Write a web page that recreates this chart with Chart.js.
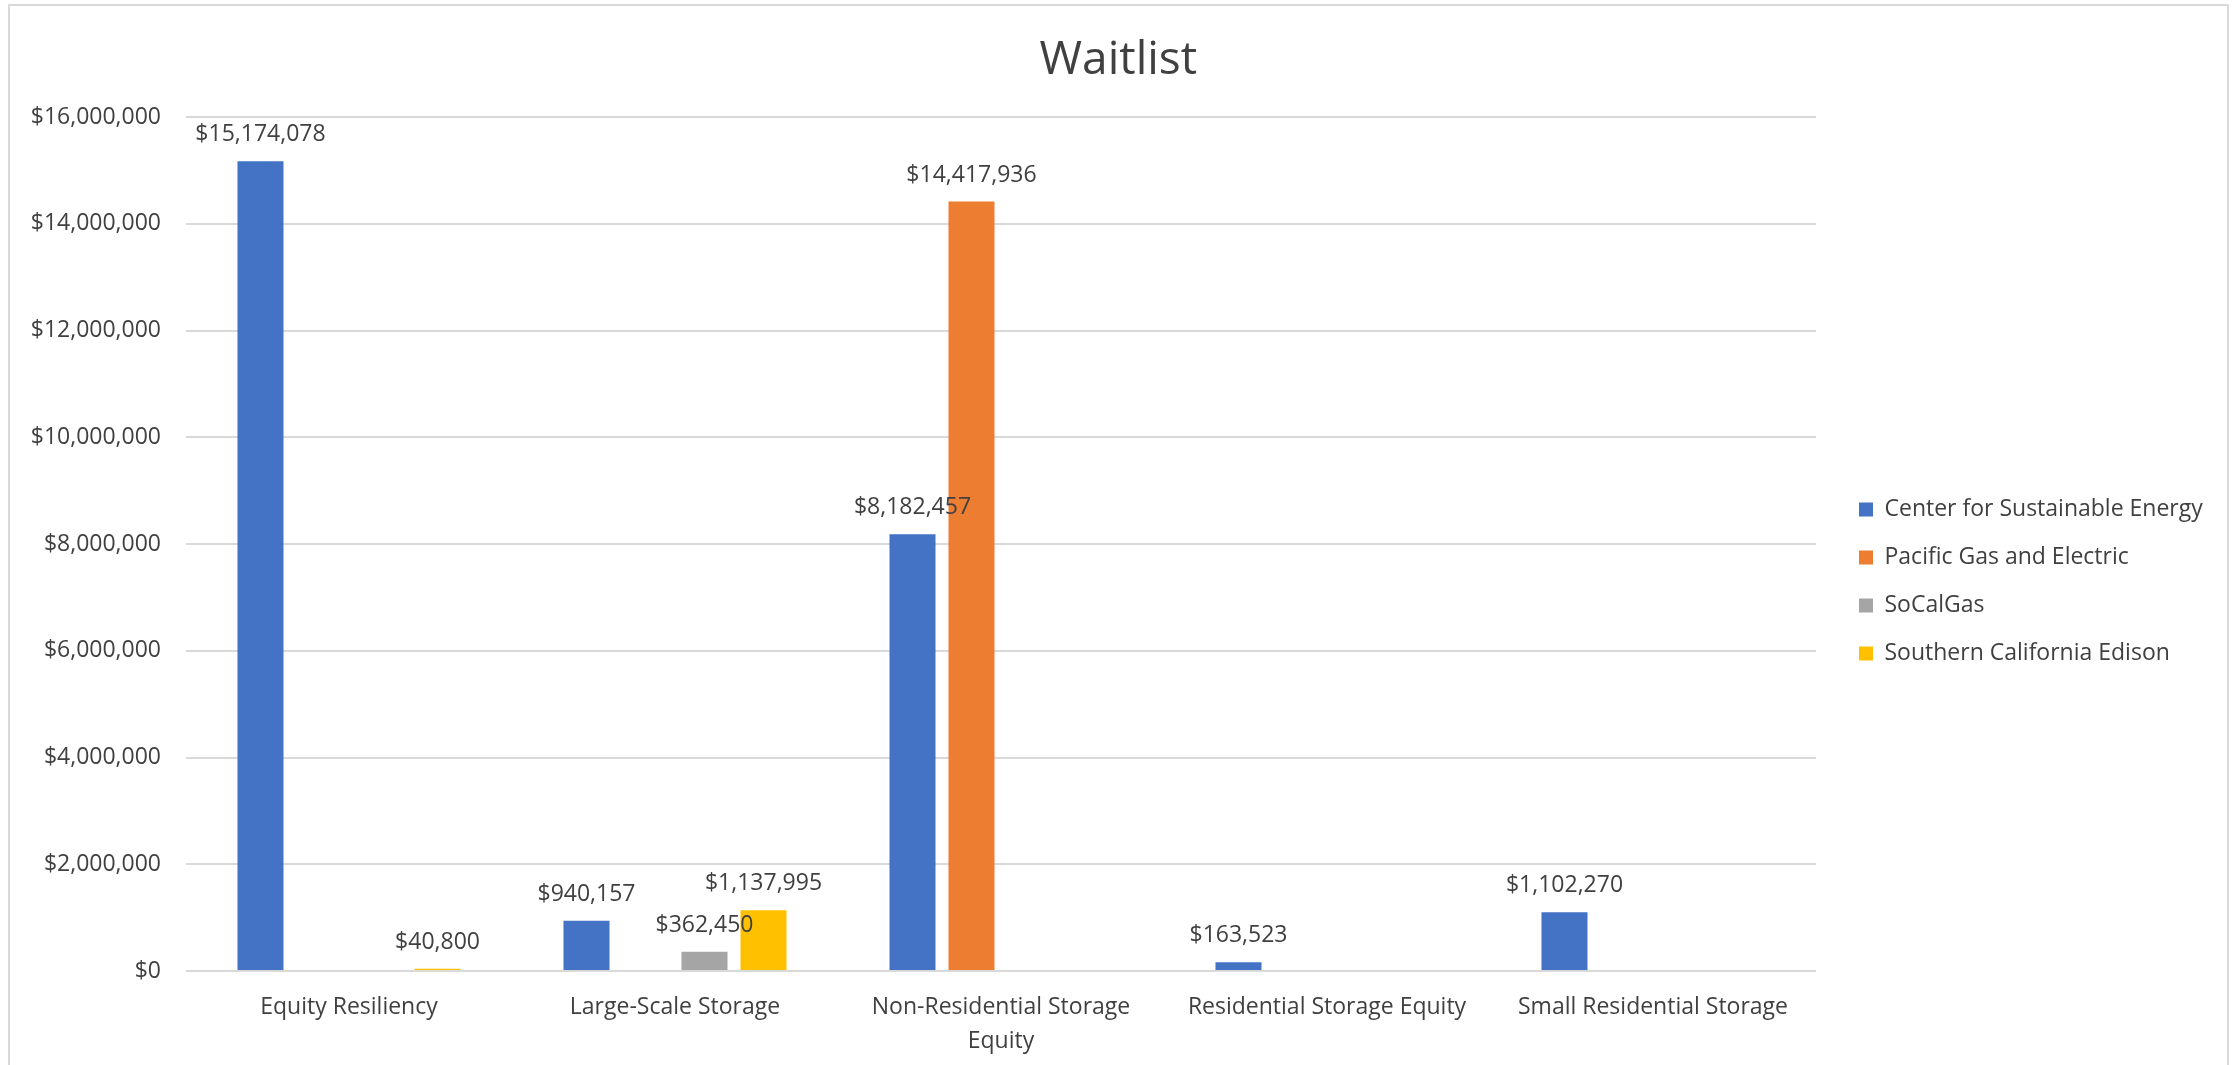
<!DOCTYPE html>
<html>
<head>
<meta charset="utf-8">
<title>Waitlist</title>
<script src="https://cdn.jsdelivr.net/npm/chart.js@4.4.1/dist/chart.umd.min.js"></script>
<style>
  html, body { margin: 0; padding: 0; background: #ffffff; overflow: hidden; }
  #wrap { position: relative; width: 2234px; height: 1065px; }
  #chart { position: absolute; left: 0; top: 0; }
  #frame {
    position: absolute; left: 8px; top: 4px; width: 2221px; height: 1120px;
    box-sizing: border-box; border: 2px solid #d9d9d9; pointer-events: none;
  }
</style>
</head>
<body>
<div id="wrap">
  <canvas id="chart" width="2234" height="1065"></canvas>
  <div id="frame"></div>
</div>
<script>
// Program categories (x axis); the long one wraps onto two lines
const categories = [
  'Equity Resiliency',
  'Large-Scale Storage',
  ['Non-Residential Storage', 'Equity'],
  'Residential Storage Equity',
  'Small Residential Storage'
];

// Waitlisted dollars per program administrator (null = no entry)
const cseValues      = [15174078, 940157, 8182457, 163523, 1102270];
const pgeValues      = [null, null, 14417936, null, null];
const socalgasValues = [null, 362450, null, null, null];
const sceValues      = [40800, 1137995, null, null, null];

const seriesNames  = ['Center for Sustainable Energy', 'Pacific Gas and Electric', 'SoCalGas', 'Southern California Edison'];
const seriesColors = ['#4472C4', '#ED7D31', '#A5A5A5', '#FFC000'];

// Value axis ticks
const yTicks = [0, 2000000, 4000000, 6000000, 8000000, 10000000, 12000000, 14000000, 16000000];

const FONT = '"Open Sans", "Noto Sans", "DejaVu Sans", sans-serif';
const TEXT = '#404040';
const fmt = v => '$' + Number(v).toLocaleString('en-US');

const W = 2234;

// Legend width (Chart.js adds 10px to a vertical legend), so the legend
// column starts where the plot's right margin ends
const mctx = document.createElement('canvas').getContext('2d');
mctx.font = '23px ' + FONT;
const maxLabelW = Math.max(...seriesNames.map(s => mctx.measureText(s).width));
const legendPad = 25, legendBox = 14, legendFont = 23;
const legendW = legendPad + legendBox + legendFont / 2 + maxLabelW + 10;
const legendLeft = 1834;
const padRight = Math.max(0, W - legendLeft - legendW);
// left padding keeps the title centred on the whole frame
const padLeft = Math.min(padRight + 4, 24);
const plotLeft = 186;

// Value labels above each bar
const barValueLabels = {
  id: 'barValueLabels',
  afterDatasetsDraw(chart) {
    const ctx = chart.ctx;
    ctx.save();
    ctx.font = '23px ' + FONT;
    ctx.fillStyle = TEXT;
    ctx.textAlign = 'center';
    ctx.textBaseline = 'alphabetic';
    chart.data.datasets.forEach((ds, i) => {
      const meta = chart.getDatasetMeta(i);
      meta.data.forEach((bar, j) => {
        const v = ds.data[j];
        if (v === null || v === undefined) return;
        ctx.fillText(fmt(v), bar.x, bar.y - 20);
      });
    });
    ctx.restore();
  }
};

const seriesData = [cseValues, pgeValues, socalgasValues, sceValues];

new Chart(document.getElementById('chart'), {
  type: 'bar',
  data: {
    labels: categories,
    datasets: seriesData.map((d, i) => ({
      label: seriesNames[i],
      data: d,
      backgroundColor: seriesColors[i],
      borderWidth: 0,
      barPercentage: 0.78,
      categoryPercentage: 0.724
    }))
  },
  plugins: [barValueLabels],
  options: {
    responsive: false,
    animation: false,
    devicePixelRatio: 1,
    layout: { padding: { left: padLeft, right: padRight, top: 0, bottom: 0 } },
    plugins: {
      title: {
        display: true,
        text: 'Waitlist',
        color: TEXT,
        font: { family: FONT, size: 46, weight: 'normal', lineHeight: 1.2 },
        padding: { top: 33, bottom: 29 }
      },
      legend: {
        display: true,
        position: 'right',
        align: 'start',
        maxWidth: 480,
        title: {
          display: true,
          text: '',
          font: { family: FONT, size: 10, lineHeight: 1 },
          padding: { top: 463, bottom: 0 }
        },
        labels: {
          color: TEXT,
          font: { family: FONT, size: legendFont },
          boxWidth: legendBox,
          boxHeight: legendBox,
          padding: legendPad
        }
      },
      tooltip: { enabled: false }
    },
    scales: {
      x: {
        grid: { display: false },
        border: { display: false },
        ticks: {
          color: TEXT,
          font: { family: FONT, size: 23, lineHeight: 1.45 },
          padding: 12,
          maxRotation: 0,
          autoSkip: false
        },
        afterFit: s => { s.height = 94; }
      },
      y: {
        min: 0,
        max: 16000000,
        afterBuildTicks: s => { s.ticks = yTicks.map(v => ({ value: v })); },
        grid: { color: '#d9d9d9', lineWidth: 2, drawTicks: false },
        border: { display: false },
        ticks: {
          color: TEXT,
          font: { family: FONT, size: 23 },
          padding: 25,
          callback: v => fmt(v)
        },
        afterFit: s => { s.width = plotLeft - padLeft; }
      },
      gap: {
        type: 'linear',
        position: 'right',
        display: true,
        grid: { display: false },
        border: { display: false },
        ticks: { display: false },
        afterFit: s => { s.width = 18; }
      }
    }
  }
});
</script>
</body>
</html>
